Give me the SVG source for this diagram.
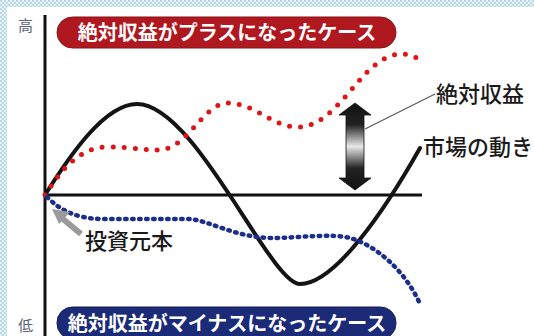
<svg xmlns="http://www.w3.org/2000/svg" width="534" height="336" viewBox="0 0 534 336">
<defs>
<pattern id="chk" width="4" height="4" patternUnits="userSpaceOnUse">
<rect width="4" height="4" fill="#e6f2f6"/>
<rect width="2" height="2" fill="#b9d9e3"/>
<rect x="2" y="2" width="2" height="2" fill="#b9d9e3"/>
</pattern>
<linearGradient id="dg" x1="0" y1="0" x2="0" y2="1">
<stop offset="0" stop-color="#111"/>
<stop offset="0.25" stop-color="#222"/>
<stop offset="0.5" stop-color="#e8e8e8"/>
<stop offset="0.75" stop-color="#222"/>
<stop offset="1" stop-color="#111"/>
</linearGradient>
<style>
.ax{stroke:#111;stroke-width:3;fill:none}
.lbl{font-family:"Noto Sans CJK JP","Noto Sans",sans-serif;font-size:22px;font-weight:500;fill:#1a1a1a}
.pill{font-family:"Noto Sans CJK JP","Noto Sans",sans-serif;font-size:20px;font-weight:bold;fill:#fff;text-anchor:middle}
.hl{font-family:"Noto Sans CJK JP","Noto Sans",sans-serif;font-size:15px;fill:#5a6478}
</style>
</defs>
<rect width="534" height="336" fill="#fff"/>
<rect x="0" y="0" width="534" height="7" fill="url(#chk)"/>
<rect x="0" y="0" width="7" height="336" fill="url(#chk)"/>

<g id="axes">
<line class="ax" x1="45" y1="15" x2="45" y2="336"/>
<line class="ax" x1="45" y1="195" x2="422" y2="195"/>
<text class="hl" x="18" y="31">高</text>
<text class="hl" x="18" y="331">低</text>
</g>

<g id="plus-case">
<rect x="57" y="17" width="339" height="31" rx="15.5" fill="#b01820" stroke="#8a1016" stroke-width="1"/>
<text class="pill" x="227" y="40">絶対収益がプラスになったケース</text>
</g>

<g id="minus-case">
<rect x="57" y="307" width="339" height="32" rx="15.5" fill="#1c2b78" stroke="#121d55" stroke-width="1"/>
<text class="pill" x="227" y="331">絶対収益がマイナスになったケース</text>
</g>

<g id="connectors">
<path id="market" d="M45,195 C70,155 105,104 137,104 C195,104 270,284 300,284 C335,284 385,210 420,148" fill="none" stroke="#141414" stroke-width="4" stroke-linecap="round"/>
<path id="plus" d="M45,195 C60,172 78,147 108,147 C135,147 150,152 165,149 C190,143 205,103 228,103 C255,103 272,127 298,127 C330,127 352,83 375,65 C390,53 405,50 420,60" fill="none" stroke="#e01414" stroke-width="5" stroke-linecap="round" stroke-dasharray="0 11"/>
<path id="minus" d="M47,197 C60,210 75,218 100,219 L190,219 C210,221 235,237 270,238 C300,238 330,233 350,238 C375,245 405,270 420,304" fill="none" stroke="#1c2e8c" stroke-width="4.5" stroke-linecap="round" stroke-dasharray="1.5 5.5"/>
<line x1="365" y1="129" x2="435" y2="94" stroke="#555" stroke-width="1.2"/>
<path d="M81,234 L63,219" stroke="#9a9a9a" stroke-width="6" fill="none"/>
<path d="M52,209 L70,212 L59,224 Z" fill="#9a9a9a"/>
</g>

<g id="gap-arrow">
<path d="M355,103 L371,115 L364,115 L364,178 L371,178 L355,190 L339,178 L346,178 L346,115 L339,115 Z" fill="url(#dg)" stroke="#111" stroke-width="0.8"/>
</g>

<g id="labels">
<text class="lbl" x="436" y="102">絶対収益</text>
<text class="lbl" x="423" y="155">市場の動き</text>
<text class="lbl" x="85" y="249">投資元本</text>
</g>
</svg>
